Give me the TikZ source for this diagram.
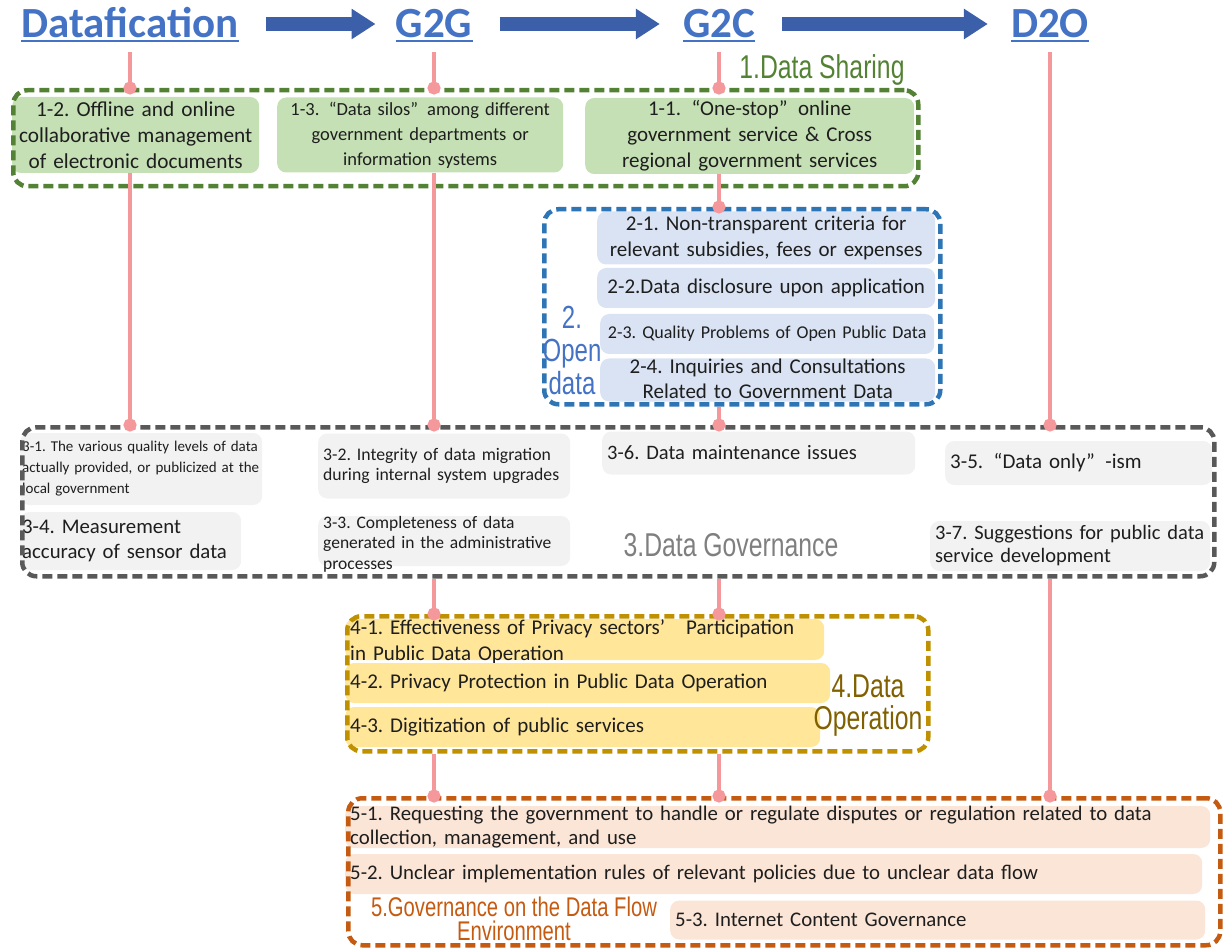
\documentclass[tikz,border=0pt]{standalone}
\usepackage{fontspec}
\setmainfont{Carlito}
\newfontfamily\condfont[FakeStretch=0.75]{Liberation Sans}
\usetikzlibrary{arrows.meta}

\definecolor{hdrblue}{HTML}{4472C4}
\definecolor{arrowblue}{HTML}{3C5FAA}
\definecolor{linkpink}{HTML}{F4989C}
\definecolor{ink}{HTML}{1E1E1E}
\definecolor{shareframe}{HTML}{548235}
\definecolor{sharefill}{HTML}{C5E0B4}
\definecolor{openframe}{HTML}{2E75B6}
\definecolor{openfill}{HTML}{DAE3F3}
\definecolor{openlabel}{HTML}{4472C4}
\definecolor{govframe}{HTML}{595959}
\definecolor{govfill}{HTML}{F2F2F2}
\definecolor{govlabel}{HTML}{7F7F7F}
\definecolor{opframe}{HTML}{BF9000}
\definecolor{opfill}{HTML}{FFE699}
\definecolor{oplabel}{HTML}{806000}
\definecolor{flowframe}{HTML}{C55A11}
\definecolor{flowfill}{HTML}{FBE5D6}

\begin{document}
\frenchspacing
\begin{tikzpicture}[
    x=1pt, y=-1pt,
    hdr/.style={font=\fontsize{43}{43}\bfseries\selectfont, text=hdrblue, text height=28pt, text depth=0pt, inner xsep=0pt, inner ysep=3pt, anchor=base},
    flow/.style={draw=arrowblue, line width=14pt, -{Triangle[width=29pt,length=24pt]}, shorten <=27pt, shorten >=23pt},
    link/.style={draw=linkpink, line width=4pt, -{Circle[length=13pt]}, shorten >=-6.5pt},
    frame/.style={draw, line width=4.5pt, dash pattern=on 10pt off 5pt, rounded corners=14pt, inner sep=0pt, anchor=north west},
    item/.style={rounded corners=9pt, inner xsep=5pt, inner ysep=0pt, anchor=west, text=ink},
    grouplabel/.style={font=\condfont\fontsize{33}{33}\selectfont, inner sep=0pt, align=center}
]
    \useasboundingbox (0,0) rectangle (1223,949);

    % headline
    \node[hdr] (datafication) at (130,38) {Datafication};
    \node[hdr] (g2g) at (434,38) {G2G};
    \node[hdr] (g2c) at (719,38) {G2C};
    \node[hdr] (d2o) at (1050,38) {D2O};
    \foreach \h in {datafication,g2g,g2c,d2o}
        \draw[hdrblue, line width=2pt] (\h.south west) -- (\h.south east);
    \draw[flow, shorten >=20pt] (datafication.east) -- (g2g.west);
    \draw[flow] (g2g.east) -- (g2c.west);
    \draw[flow] (g2c.east) -- (d2o.west);

    % 1. data sharing
    \node[item, fill=sharefill, text width=243pt, inner xsep=2pt, minimum height=76pt, align=center, font=\fontsize{21.3}{26}\selectfont] (offline) at (12,135) {1-2. Offline and online\\collaborative management\\of electronic documents};
    \node[item, fill=sharefill, text width=276pt, minimum height=75pt, align=center, font=\fontsize{18.5}{25}\selectfont] (silos) at (277,135) {1-3.\enspace“Data silos”\enspace among different\\government departments or\\information systems};
    \node[item, fill=sharefill, text width=319pt, minimum height=76pt, align=center, font=\fontsize{21}{26}\selectfont] (onestop) at (585,136) {1-1.\enspace“One-stop”\enspace online\\government service \& Cross\\regional government services};
    \node[frame, draw=shareframe, minimum width=905pt, minimum height=96pt] (share) at (11,88) {};
    \node[grouplabel, text=shareframe] (sharelbl) at (822,70) {1.Data Sharing};

    % 2. open data
    \node[item, fill=openfill, text width=328pt, minimum height=53pt, align=center, font=\fontsize{21}{26}\selectfont] (criteria) at (597,238) {2-1. Non-transparent criteria for\\relevant subsidies, fees or expenses};
    \node[item, fill=openfill, text width=328pt, minimum height=40pt, align=center, font=\fontsize{21}{26}\selectfont] (disclose) at (597,288) {2-2.Data disclosure upon application};
    \node[item, fill=openfill, text width=331pt, inner xsep=1.5pt, minimum height=40pt, align=center, font=\fontsize{18}{24}\selectfont] (quality) at (600,334) {2-3. Quality Problems of Open Public Data};
    \node[item, fill=openfill, text width=325pt, text height=15pt, text depth=28pt, align=center, font=\fontsize{21}{25}\selectfont] (inquiry) at (600,380) {2-4. Inquiries and Consultations\\Related to Government Data};
    \node[frame, draw=openframe, minimum width=396pt, minimum height=195pt] (opendata) at (542,207) {};
    \node[grouplabel, text=openlabel, font=\condfont\fontsize{32}{33}\selectfont] (openlbl) at (572,350) {2.\\Open\\data};

    % 3. data governance
    \node[item, fill=govfill, text width=238pt, inner xsep=2pt, minimum height=72pt, align=left, font=\fontsize{15}{21}\selectfont] (levels) at (20,469) {3-1. The various quality levels of data\\actually provided, or publicized at the\\local government};
    \node[item, fill=govfill, text width=242pt, minimum height=65pt, align=left, font=\fontsize{17.7}{20}\selectfont] (migration) at (318,466) {3-2. Integrity of data migration\\during internal system upgrades};
    \node[item, fill=govfill, text width=242pt, text height=12pt, text depth=38pt, align=left, font=\fontsize{17.5}{20.5}\selectfont] (complete) at (318,541) {3-3. Completeness of data\\generated in the administrative\\processes};
    \node[item, fill=govfill, text width=217pt, inner xsep=2pt, minimum height=58pt, align=left, font=\fontsize{20.8}{25}\selectfont] (sensor) at (20,541) {3-4. Measurement\\accuracy of sensor data};
    \node[item, fill=govfill, text width=303pt, minimum height=43pt, align=left, font=\fontsize{20.5}{25}\selectfont] (maintain) at (602,453) {3-6. Data maintenance issues};
    \node[item, fill=govfill, text width=257pt, minimum height=44pt, align=left, font=\fontsize{21}{25}\selectfont] (dataonly) at (945,463) {3-5.\enspace“Data only”\enspace -ism};
    \node[item, fill=govfill, text width=270pt, minimum height=50pt, align=left, font=\fontsize{20.5}{23}\selectfont] (suggest) at (930,546) {3-7. Suggestions for public data\\service development};
    \node[frame, draw=govframe, minimum width=1192pt, minimum height=149pt] (govern) at (20,425) {};
    \node[grouplabel, text=govlabel] (govlbl) at (731,545) {3.Data Governance};

    % 4. data operation
    \node[item, fill=opfill, text width=469pt, text height=15pt, text depth=26pt, align=left, font=\fontsize{21}{26}\selectfont] (sectors) at (345,639.5) {4-1. Effectiveness of Privacy sectors’\quad Participation\\in Public Data Operation};
    \node[item, fill=opfill, text width=475pt, minimum height=40pt, align=left, font=\fontsize{21}{24}\selectfont] (privacy) at (345,683) {4-2. Privacy Protection in Public Data Operation};
    \node[item, fill=opfill, text width=465pt, minimum height=40pt, align=left, font=\fontsize{21}{24}\selectfont] (digital) at (345,727) {4-3. Digitization of public services};
    \node[frame, draw=opframe, minimum width=581pt, minimum height=135pt] (operate) at (345,614) {};
    \node[grouplabel, text=oplabel, font=\condfont\fontsize{33}{32}\selectfont] (oplbl) at (868,706) {4.Data\\Operation};

    % 5. governance on the data flow environment
    \node[item, fill=flowfill, text width=855pt, text height=14pt, text depth=28pt, align=left, font=\fontsize{20.8}{24}\selectfont] (disputes) at (345,827) {5-1. Requesting the government to handle or regulate disputes or regulation related to data\\collection, management, and use};
    \node[item, fill=flowfill, text width=847pt, minimum height=40pt, align=left, font=\fontsize{20.8}{24}\selectfont] (rules) at (345,874) {5-2. Unclear implementation rules of relevant policies due to unclear data flow};
    \node[item, fill=flowfill, text width=525pt, minimum height=39pt, align=left, font=\fontsize{20.8}{24}\selectfont] (content) at (670,920) {5-3. Internet Content Governance};
    \node[frame, draw=flowframe, minimum width=872pt, minimum height=147pt] (flowenv) at (346,796) {};
    \node[grouplabel, text=flowframe, font=\condfont\fontsize{27}{24}\selectfont] (flowlbl) at (514,919) {5.Governance on the Data Flow\\Environment};

    % connectors
    \draw[link, shorten <=11pt] (datafication.south) -- (share.north -| datafication);
    \draw[link, shorten <=11pt] (g2g.south) -- (share.north -| g2g);
    \draw[link, shorten <=11pt] (g2c.south) -- (share.north -| g2c);
    \draw[link, shorten <=11pt] (d2o.south) -- (govern.north -| d2o);
    \draw[link] (offline.south -| datafication) -- (govern.north -| datafication);
    \draw[link] (silos.south -| g2g) -- (govern.north -| g2g);
    \draw[link] (onestop.south -| g2c) -- (opendata.north -| g2c);
    \draw[link] (opendata.south -| g2c) -- (govern.north -| g2c);
    \draw[link] (govern.south -| g2g) -- (operate.north -| g2g);
    \draw[link] (govern.south -| g2c) -- (operate.north -| g2c);
    \draw[link] (operate.south -| g2g) -- (flowenv.north -| g2g);
    \draw[link] (operate.south -| g2c) -- (flowenv.north -| g2c);
    \draw[link] (govern.south -| d2o) -- (flowenv.north -| d2o);
\end{tikzpicture}
\end{document}
